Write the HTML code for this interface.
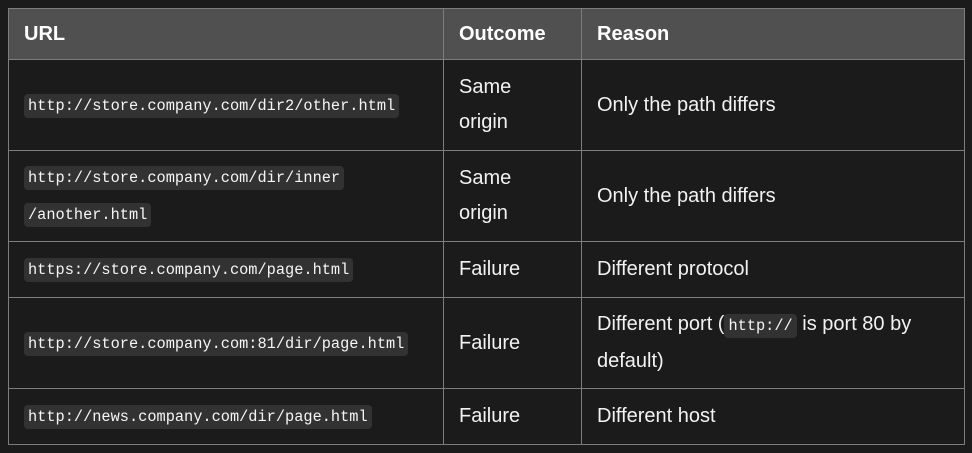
<!DOCTYPE html>
<html><head><meta charset="utf-8"><style>
html,body{margin:0;padding:0;background:#1b1b1b;width:972px;height:453px;overflow:hidden}
table{position:absolute;left:8px;top:8px;border-collapse:collapse;table-layout:fixed;width:956px;font-family:"Liberation Sans",sans-serif;font-size:20px;color:#f2f2f2}
td,th{border:1px solid #7d7d7d;padding:0 15px;line-height:35px;text-align:left;vertical-align:middle}
th{background:#505050;font-weight:bold;height:50px;color:#fff;font-size:20px}
code{font-family:"Liberation Mono",monospace;font-size:15.3px;background:#323232;border-radius:4px;padding:3px 4px;color:#f5f5f5}
</style></head><body>
<table>
<colgroup><col style="width:435px"><col style="width:138px"><col style="width:383px"></colgroup>
<tr><th>URL</th><th>Outcome</th><th>Reason</th></tr>
<tr style="height:91px"><td><code>http://store.company.com/dir2/other.html</code></td><td>Same<br>origin</td><td>Only the path differs</td></tr>
<tr style="height:91px"><td><code>http://store.company.com/dir/inner</code><br><code>/another.html</code></td><td>Same<br>origin</td><td>Only the path differs</td></tr>
<tr style="height:56px"><td><code>https://store.company.com/page.html</code></td><td>Failure</td><td>Different protocol</td></tr>
<tr style="height:91px"><td><code>http://store.company.com:81/dir/page.html</code></td><td>Failure</td><td>Different port (<code>http://</code> is port 80 by<br>default)</td></tr>
<tr style="height:56px"><td><code>http://news.company.com/dir/page.html</code></td><td>Failure</td><td>Different host</td></tr>
</table>
</body></html>
